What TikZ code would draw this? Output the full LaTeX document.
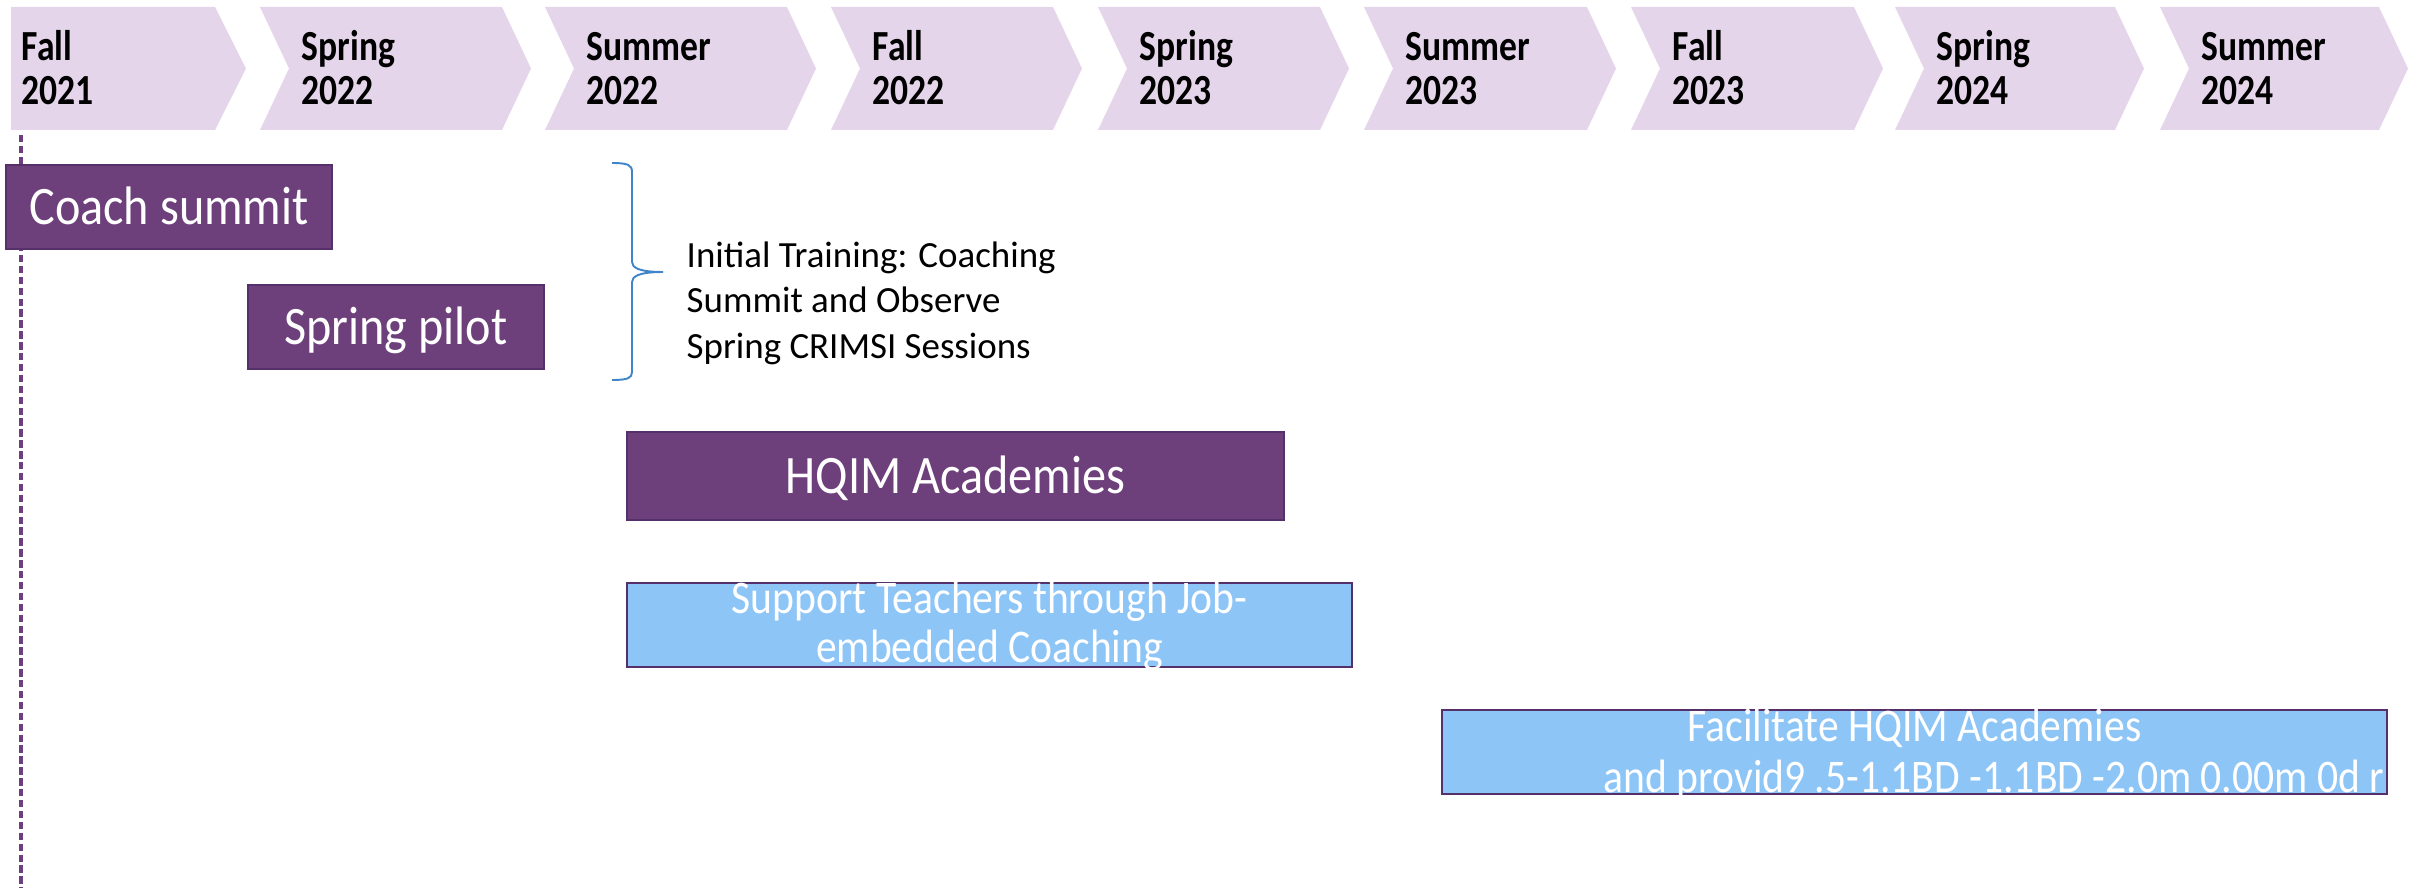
\documentclass[tikz,border=0pt]{standalone}
\usepackage{fontspec}
\setmainfont{Carlito}
\newfontfamily\hdrfont{Carlito}[FakeStretch=0.83]
\newfontfamily\boxfont{Carlito}[FakeStretch=0.89]
\definecolor{chevfill}{HTML}{E4D5EA}
\definecolor{boxpurple}{HTML}{6D3F7B}
\definecolor{boxedge}{HTML}{55306A}
\definecolor{boxblue}{HTML}{8DC5F7}
\definecolor{bracecol}{HTML}{3F86C8}
\definecolor{linepurple}{HTML}{6E3F80}
\tikzset{
	season/.style={anchor=base west, inner sep=0pt, font=\hdrfont\bfseries\fontsize{12.2pt}{14pt}\selectfont},
	purplebox/.style={draw=boxedge, fill=boxpurple, line width=0.6pt, text=white, inner sep=0pt,
		minimum height=0.84cm, text height=9.7pt, text depth=0pt, font=\boxfont\fontsize{15.4pt}{18pt}\selectfont},
	bluebox/.style={draw=boxedge, fill=boxblue, line width=0.6pt, inner sep=0pt, minimum height=0.84cm},
	boxlabel/.style={anchor=base, text=white, inner sep=0pt, font=\boxfont\fontsize{13.3pt}{16pt}\selectfont},
	note/.style={anchor=base west, inner sep=0pt, font=\fontsize{10.5pt}{12pt}\selectfont}
}
\begin{document}
\begin{tikzpicture}[x=0.01cm,y=-0.01cm]
	\useasboundingbox (0,0) rectangle (2430,888);
	%timeline
		\draw[linepurple, line width=0.9pt, dash pattern=on 2.1pt off 1pt] (21,135) -- (21,888);
	%first chevron
		\fill[chevfill] (11,7) -- (215,7) -- (246,68.5) -- (215,130) -- (11,130) -- cycle;
		\node[season] (sea1) at (21,61) {Fall};
		\node[season] (yr1) at (21,105) {2021};
	%other chevrons
		\foreach \L/\R/\sn/\yr [count=\i from 2] in {260/502/Spring/2022, 545/787/Summer/2022,
			831/1053/Fall/2022, 1098/1320/Spring/2023, 1364/1587/Summer/2023,
			1631/1854/Fall/2023, 1895/2115/Spring/2024, 2160/2379/Summer/2024}{
			\fill[chevfill] (\L,7) -- (\R,7) -- ({\R+29},68.5) -- (\R,130) -- (\L,130) -- ({\L+29},68.5) -- cycle;
			\node[season] (sea\i) at ({\L+41},61) {\sn};
			\node[season] (yr\i) at ({\L+41},105) {\yr};
		}
	%initial training
		\node[purplebox, minimum width=3.26cm] (coach) at (169,207) {Coach summit};
		\node[purplebox, minimum width=2.96cm] (pilot) at (396,327) {Spring pilot};
		\draw[bracecol, line width=0.55pt] (612,163) .. controls (628,163) and (632,165) .. (632,172)
			-- (632,262) .. controls (632,268) and (640,272) .. (663,272)
			.. controls (640,272) and (632,276) .. (632,282)
			-- (632,372) .. controls (632,378) and (628,380) .. (612,380);
		\node[note] (note1) at (686,268) {Initial Training: Coaching};
		\node[note] (note2) at (686,313) {Summit and Observe};
		\node[note] (note3) at (686,358) {Spring CRIMSI Sessions};
	%academies
		\node[purplebox, minimum width=6.57cm, minimum height=0.88cm] (hqim) at (955.5,476) {HQIM Academies};
	%coaching support
		\node[bluebox, minimum width=7.25cm] (support) at (989.5,625) {};
		\begin{scope}
			\clip (support.south west) rectangle (support.north east);
			\node[boxlabel] (sup1) at (989.5,613) {Support Teachers through Job-};
			\node[boxlabel] (sup2) at (989.5,662) {embedded Coaching};
		\end{scope}
	%facilitate
		\node[bluebox, minimum width=9.45cm] (facil) at (1914.5,752) {};
		\begin{scope}
			\clip (facil.south west) rectangle (facil.north east);
			\node[boxlabel] (fac1) at (1914.5,741) {Facilitate HQIM Academies};
			\node[boxlabel, anchor=base west] (fac2) at (1603,792) {and provid9 .5-1.1BD -1.1BD -2.0m 0.00m 0d r};
		\end{scope}
\end{tikzpicture}
\end{document}
